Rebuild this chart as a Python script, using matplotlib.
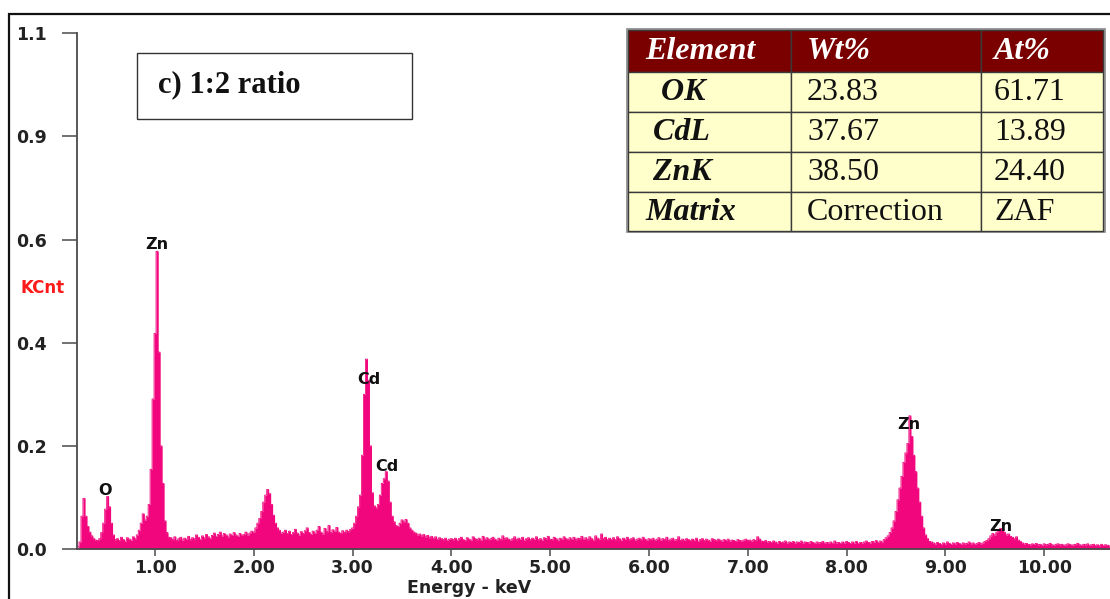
import numpy as np
import matplotlib
matplotlib.use("Agg")
import matplotlib.pyplot as plt
from matplotlib.patches import Rectangle

# EDX spectrum in 0.02 keV channels (values in counts, 1000 = 1 KCnt)
STEP = 0.02

# 0.22 - 1.14 keV : low-energy spike, O K, Zn L
low_start = 0.22
low_counts = [5, 15, 70, 108, 70, 48, 36, 28, 22, 19,
              18, 22, 35, 55, 85, 112, 90, 55, 30, 20,
              22, 18, 25, 20, 17, 24, 21, 19, 26, 22,
              30, 40, 55, 75, 62, 70, 95, 170, 320, 460,
              635, 420, 220, 140, 60, 35, 25]

# 1.16 - 2.02 keV : background
bg1_start = 1.16
bg1_counts = [24, 20, 26, 18, 22, 25, 19, 23, 21, 27,
              20, 24, 22, 30, 25, 21, 28, 24, 31, 26,
              23, 29, 34, 27, 31, 36, 28, 33, 30, 26,
              32, 29, 35, 30, 27, 33, 29, 31, 36, 30,
              34, 38, 36, 45]

# 2.04 - 2.28 keV : peak near 2.15
mid_start = 2.04
mid_counts = [55, 65, 80, 100, 115, 127, 118, 95, 72, 55, 45, 40, 34]

# 2.30 - 3.02 keV : background
bg2_start = 2.30
bg2_counts = [36, 40, 33, 38, 31, 35, 42, 34, 30, 37,
              33, 39, 45, 35, 31, 38, 34, 40, 48, 36,
              32, 44, 37, 50, 35, 41, 38, 46, 36, 33,
              39, 35, 40, 37, 42, 45, 55]

# 3.04 - 3.66 keV : Cd L lines
cd_start = 3.04
cd_counts = [70, 90, 115, 200, 330, 405, 360, 220, 120, 92,
             88, 95, 115, 140, 150, 165, 145, 100, 70, 58,
             50, 48, 55, 62, 58, 63, 55, 45, 40, 36,
             34, 30]

# 3.68 - 4.00 keV
bg3_start = 3.68
bg3_counts = [32, 28, 31, 26, 29, 24, 27, 23, 26, 21, 24, 22, 20, 23, 19, 21, 22]

# 4.02 - 8.40 keV : long flat background
bg4_start = 4.02
bg4_counts = [20, 23, 19, 22, 25, 20, 18, 24, 21, 19, 26, 22, 20, 23, 19, 27, 21, 24, 20, 22,
              25, 21, 19, 23, 20, 28, 22, 24, 21, 19, 22, 26, 20, 23, 21, 25, 19, 22, 24, 20,
              23, 21, 26, 20, 22, 19, 24, 22, 27, 21, 20, 25, 22, 19, 23, 21, 26, 22, 20, 24,
              21, 25, 20, 23, 22, 27, 21, 24, 20, 26, 22, 19, 28, 23, 21, 32, 22, 25, 20, 23,
              21, 24, 20, 26, 22, 19, 23, 21, 25, 20, 22, 24, 19, 21, 23, 20, 25, 21, 19, 22,
              20, 23, 18, 21, 24, 19, 22, 20, 25, 18, 21, 23, 19, 20, 26, 18, 21, 19, 22, 20,
              18, 21, 19, 23, 17, 20, 22, 18, 21, 19, 17, 22, 20, 18, 21, 19, 17, 20, 18, 21,
              17, 19, 18, 16, 20, 18, 17, 19, 21, 18, 19, 17, 20, 18, 26, 21, 17, 16, 18, 15,
              16, 14, 17, 15, 13, 16, 14, 15, 17, 13, 15, 14, 16, 13, 15, 14, 17, 13, 15, 14,
              13, 16, 14, 12, 15, 13, 14, 16, 12, 14, 13, 15, 12, 17, 13, 14, 12, 15, 13, 16,
              14, 12, 15, 13, 16, 12, 14, 13, 15, 17, 14, 13, 16, 15, 18, 14, 17, 15, 20, 24]

# 8.42 - 8.84 keV : Zn K alpha
znk_start = 8.42
znk_counts = [28, 35, 45, 60, 80, 105, 130, 155, 185, 205,
              225, 284, 240, 200, 165, 130, 100, 70, 45, 30,
              22, 16]

# 8.86 - 9.40 keV
bg5_start = 8.86
bg5_counts = [15, 13, 11, 14, 12, 10, 13, 11, 15, 12,
              10, 13, 11, 14, 12, 10, 13, 11, 12, 15,
              11, 13, 10, 12, 14, 11, 13, 16]

# 9.42 - 9.76 keV : Zn K beta
znkb_start = 9.42
znkb_counts = [18, 22, 28, 33, 30, 36, 40, 44, 41, 35,
               30, 32, 27, 25, 22, 26, 19, 16]

# 9.78 - 10.66 keV
bg6_start = 9.78
bg6_counts = [13, 11, 12, 10, 9, 11, 10, 12, 9, 10,
              8, 11, 9, 10, 12, 9, 8, 10, 11, 9,
              10, 8, 9, 11, 10, 8, 9, 10, 12, 9,
              8, 10, 9, 11, 8, 9, 10, 8, 9, 7,
              10, 8, 9, 8, 7]

segments = [(low_start, low_counts), (bg1_start, bg1_counts), (mid_start, mid_counts),
            (bg2_start, bg2_counts), (cd_start, cd_counts), (bg3_start, bg3_counts),
            (bg4_start, bg4_counts), (znk_start, znk_counts), (bg5_start, bg5_counts),
            (znkb_start, znkb_counts), (bg6_start, bg6_counts)]

energy = np.concatenate([s + STEP * np.arange(len(c)) for s, c in segments])
kcnt = np.concatenate([np.array(c, dtype=float) for s, c in segments]) / 1000.0

# peak labels
peak_names = ["O", "Zn", "Cd", "Cd", "Zn", "Zn"]
peak_x = [0.495, 1.02, 3.166, 3.35, 8.63, 9.56]
peak_y = [0.124, 0.649, 0.361, 0.177, 0.265, 0.047]

# axis ticks
y_ticks = [0.0, 0.22, 0.44, 0.66, 0.88, 1.1]
y_tick_labels = ["0.0", "0.2", "0.4", "0.6", "0.9", "1.1"]
x_ticks = [1, 2, 3, 4, 5, 6, 7, 8, 9, 10]
x_tick_labels = ["%.2f" % v for v in x_ticks]

# composition table
table_header = ["Element", "Wt%", "At%"]
table_elements = ["  OK", " CdL", " ZnK", "Matrix"]
table_wt = ["23.83", "37.67", "38.50", "Correction"]
table_at = ["61.71", "13.89", "24.40", "ZAF"]

PINK = "#F2067D"
AXIS_GRAY = "#4a4a4a"

W, H = 1110, 599
fig = plt.figure(figsize=(W / 100, H / 100), dpi=100)

ax = fig.add_axes([77 / W, 1 - 549 / H, 1 - 77 / W, (549 - 33.3) / H])
ax.fill_between(energy, kcnt, step="mid", color=PINK, linewidth=0)
ax.plot(energy, kcnt, drawstyle="steps-mid", color=PINK, linewidth=0.6)
ax.set_xlim(0.21, 10.666)
ax.set_ylim(0, 1.1)

for sp in ["top", "right"]:
    ax.spines[sp].set_visible(False)
for sp in ["left", "bottom"]:
    ax.spines[sp].set_color(AXIS_GRAY)
    ax.spines[sp].set_linewidth(1.3)

ax.set_yticks(y_ticks)
ax.set_yticklabels(y_tick_labels, fontsize=12.5, fontweight="bold", color="#222222")
ax.set_xticks(x_ticks)
ax.set_xticklabels(x_tick_labels, fontsize=12.5, fontweight="bold", color="#222222")
ax.tick_params(axis="y", direction="out", length=11, width=1.1, color=AXIS_GRAY, pad=11)
ax.tick_params(axis="x", direction="out", length=5, width=1.1, color=AXIS_GRAY, pad=2)
ax.set_facecolor("none")

for name, px, py in zip(peak_names, peak_x, peak_y):
    ax.text(px, py, name, ha="center", va="center", fontsize=11.5,
            fontweight="bold", color="#111111")

# overlay in pixel coordinates for the frame, labels, title box and table
ov = fig.add_axes([0, 0, 1, 1])
ov.set_xlim(0, W)
ov.set_ylim(H, 0)
ov.axis("off")
ov.patch.set_alpha(0)

ov.plot([8.5, 8.5, W], [H, 13.5, 13.5], color="#111111", linewidth=1.6, solid_joinstyle="miter")

ov.text(43, 288, "KCnt", color="#FF1A1A", fontsize=12, fontweight="bold",
        ha="center", va="center")
ov.text(469, 588, "Energy - keV", color="#222222", fontsize=12.5, fontweight="bold",
        ha="center", va="center")

ov.add_patch(Rectangle((137, 53), 275, 66, facecolor="white", edgecolor="#333333", linewidth=1))
ov.text(158, 85, "c) 1:2 ratio", family="Liberation Serif", fontsize=22,
        fontweight="bold", ha="left", va="center", color="#111111")

# table
col_x = [628, 790.7, 980.7, 1103]
row_y = [30, 71.7, 111.7, 151.7, 191.7, 230.7]
text_x = [645, 807, 994]
ov.add_patch(Rectangle((col_x[0] - 1.5, row_y[0] - 1.5), col_x[3] - col_x[0] + 3,
                       row_y[5] - row_y[0] + 3, facecolor="none", edgecolor="#888888",
                       linewidth=1.2))
for r in range(5):
    for c in range(3):
        fc = "#7A0000" if r == 0 else "#FFFFCC"
        ov.add_patch(Rectangle((col_x[c], row_y[r]), col_x[c + 1] - col_x[c],
                               row_y[r + 1] - row_y[r], facecolor=fc,
                               edgecolor="#3a3a3a", linewidth=1))

for c, txt in enumerate(table_header):
    ov.text(text_x[c], (row_y[0] + row_y[1]) / 2 + 1, txt, family="Liberation Serif",
            fontsize=23, fontweight="bold", style="italic", color="white",
            ha="left", va="center")
for r in range(4):
    yc = (row_y[r + 1] + row_y[r + 2]) / 2 + 1
    ov.text(text_x[0], yc, table_elements[r], family="Liberation Serif", fontsize=23,
            fontweight="bold", style="italic", color="#111111", ha="left", va="center")
    ov.text(text_x[1], yc, table_wt[r], family="Liberation Serif", fontsize=23,
            color="#111111", ha="left", va="center")
    ov.text(text_x[2], yc, table_at[r], family="Liberation Serif", fontsize=23,
            color="#111111", ha="left", va="center")

fig.savefig("out.png", dpi=100)
